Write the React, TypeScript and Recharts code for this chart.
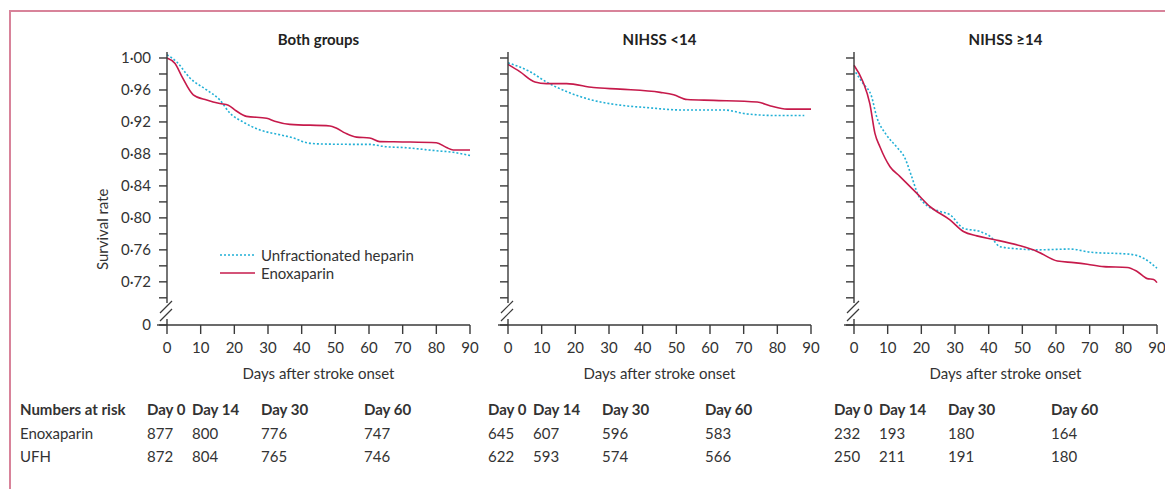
import React from 'react';
import { LineChart, Line, XAxis, YAxis } from 'recharts';

// survival curves as [day, survival]
const bothEnox: [number, number][] = [
  [0, 1.0], [2.4, 0.993], [4.4, 0.977], [7.8, 0.954], [11.8, 0.9475], [15.7, 0.943],
  [18.2, 0.941], [20.5, 0.934], [23.6, 0.927], [29.6, 0.9246], [32, 0.921], [36.5, 0.917],
  [48.4, 0.915], [50.4, 0.912], [53, 0.906], [56.3, 0.901], [60.2, 0.9], [63.2, 0.8954],
  [70, 0.895], [80, 0.894], [83, 0.888], [85, 0.885], [90, 0.885],
];
const bothUfh: [number, number][] = [
  [0, 1.004], [2.9, 0.995], [6.8, 0.975], [11.8, 0.96], [15.7, 0.9475], [18.7, 0.931],
  [22.6, 0.92], [27.6, 0.91], [33.5, 0.904], [37.5, 0.9], [41.5, 0.894], [45.4, 0.8925],
  [55, 0.892], [60, 0.892], [65, 0.889], [70, 0.888], [80, 0.884], [85, 0.882], [90, 0.878],
];
const lowEnox: [number, number][] = [
  [0, 0.992], [3.5, 0.983], [8, 0.97], [11.4, 0.968], [17.4, 0.968], [25.4, 0.963],
  [33.3, 0.961], [45.2, 0.957], [49.2, 0.954], [53.2, 0.948], [61.1, 0.947], [74, 0.945],
  [78, 0.94], [82.9, 0.936], [90, 0.936],
];
const lowUfh: [number, number][] = [
  [0, 0.994], [6.5, 0.983], [11.4, 0.97], [17.4, 0.958], [24.4, 0.948], [33.3, 0.941],
  [41.2, 0.938], [51.2, 0.935], [64, 0.935], [71, 0.93], [80, 0.928], [88, 0.928],
];
const highEnox: [number, number][] = [
  [0, 0.991], [2.7, 0.97], [4.7, 0.943], [6.2, 0.906], [7.7, 0.889], [10.7, 0.864],
  [13.6, 0.852], [18.6, 0.831], [22.6, 0.814], [28.5, 0.7975], [32.5, 0.783], [36.5, 0.7775],
  [41.5, 0.773], [49.4, 0.765], [54.4, 0.758], [60.4, 0.746], [65.3, 0.744], [69.3, 0.742],
  [74.2, 0.739], [81.2, 0.738], [84.1, 0.733], [87.1, 0.724], [89, 0.723], [90, 0.719],
];
const highUfh: [number, number][] = [
  [0.5, 0.982], [2.7, 0.968], [5.2, 0.952], [6.7, 0.927], [9.6, 0.904], [12.6, 0.889],
  [15.1, 0.875], [17.1, 0.852], [19, 0.829], [21.5, 0.816], [25.5, 0.808], [28.5, 0.804],
  [32.5, 0.787], [37.4, 0.783], [40.4, 0.777], [43.4, 0.764], [49.4, 0.761], [54.4, 0.76],
  [64.3, 0.761], [70.3, 0.757], [82.1, 0.7545], [86, 0.7495], [90, 0.737],
];

const dayTicks = [0, 10, 20, 30, 40, 50, 60, 70, 80, 90];
// 0.666 stands in for the broken-axis "0"
const ZERO_POS = 0.666;
const survivalTicks = [ZERO_POS, 0.7, 0.72, 0.74, 0.76, 0.78, 0.8, 0.82, 0.84, 0.86, 0.88, 0.9, 0.92, 0.94, 0.96, 0.98, 1.0];
const labelledTicks = [0.72, 0.76, 0.8, 0.84, 0.88, 0.92, 0.96, 1.0];

const riskDays = ['Day 0', 'Day 14', 'Day 30', 'Day 60'];
const riskGroups = ['Enoxaparin', 'UFH'];
const bothRiskEnox = [877, 800, 776, 747];
const bothRiskUfh = [872, 804, 765, 746];
const lowRiskEnox = [645, 607, 596, 583];
const lowRiskUfh = [622, 593, 574, 566];
const highRiskEnox = [232, 193, 180, 164];
const highRiskUfh = [250, 211, 191, 180];

const FONT = 'Lato, "Open Sans", sans-serif';
const INK = '#333';
const AXIS = '#3a3a3a';
const RED = '#c61a4b';
const CYAN = '#22b0d6';
const Y_TICK_SIZE = 8;
const Y_TICK_MARGIN = 8;
const Y_WIDTH = 60;
const PLOT_LEFT = 167;
const PLOT_W = 303;
const CHART_W = 480;
const CHART_H = 400;

const series = [
  { key: 'ufh', name: 'Unfractionated heparin', color: CYAN, dash: '2 2' },
  { key: 'enox', name: 'Enoxaparin', color: RED, dash: undefined },
];

const toPoints = (rows: [number, number][]) => rows.map(([day, value]) => ({ day, value }));

function SurvivalTick(props: any) {
  const { x, y, payload, showLabels } = props;
  const v = payload.value;
  const axisX = x + Y_TICK_SIZE + Y_TICK_MARGIN;
  let label = '';
  if (showLabels) {
    if (v === ZERO_POS) label = '0';
    else if (labelledTicks.some((t) => Math.abs(t - v) < 1e-6)) label = v.toFixed(2).replace('.', '·');
  }
  return (
    <g>
      {v === ZERO_POS && (
        <g>
          <line x1={axisX - 10} x2={axisX} y1={y} y2={y} stroke={AXIS} strokeWidth={1.4} />
          <rect x={axisX - 3} y={y - 22} width={6} height={16} fill="#fff" />
          <line x1={axisX - 7} y1={y - 12} x2={axisX + 5} y2={y - 24} stroke={AXIS} strokeWidth={1.2} />
          <line x1={axisX - 7} y1={y - 4} x2={axisX + 5} y2={y - 16} stroke={AXIS} strokeWidth={1.2} />
        </g>
      )}
      {label && (
        <text x={x} y={y} dy="0.36em" textAnchor="end" fontSize={15} fill={INK} fontFamily={FONT}>
          {label}
        </text>
      )}
    </g>
  );
}

function LegendBox() {
  return (
    <div style={{ position: 'absolute', left: 218, top: 246, fontFamily: FONT, fontSize: 15, color: INK, lineHeight: '18px' }}>
      {series.map((s) => (
        <div key={s.key} style={{ display: 'flex', alignItems: 'center' }}>
          <svg width={43} height={18}>
            <line x1={2} x2={37} y1={9} y2={9} stroke={s.color} strokeWidth={1.6} strokeDasharray={s.dash} />
          </svg>
          <span>{s.name}</span>
        </div>
      ))}
    </div>
  );
}

function Panel({ left, title, enox, ufh, showLabels, showLegend }: any) {
  const rows: Record<string, [number, number][]> = { enox, ufh };
  return (
    <div style={{ position: 'absolute', left, top: 0, width: CHART_W, height: CHART_H }}>
      <div
        style={{
          position: 'absolute',
          left: PLOT_LEFT,
          width: PLOT_W,
          top: 30,
          textAlign: 'center',
          fontFamily: FONT,
          fontWeight: 700,
          fontSize: 15,
          color: '#222',
        }}
      >
        {title}
      </div>
      <LineChart
        width={CHART_W}
        height={CHART_H}
        margin={{ top: 52, right: CHART_W - PLOT_LEFT - PLOT_W, bottom: 39, left: PLOT_LEFT - Y_WIDTH }}
        style={{ position: 'absolute', left: 0, top: 0 }}
      >
        <XAxis
          type="number"
          dataKey="day"
          domain={[0, 90]}
          ticks={dayTicks}
          interval={0}
          height={36}
          tickSize={9}
          tickMargin={8}
          axisLine={{ stroke: AXIS, strokeWidth: 1.4 }}
          tickLine={{ stroke: AXIS, strokeWidth: 1.4 }}
          tick={{ fontSize: 15, fill: INK, fontFamily: FONT }}
          label={{ value: 'Days after stroke onset', position: 'bottom', offset: 7, fontSize: 15, fill: INK, fontFamily: FONT }}
        />
        <YAxis
          type="number"
          domain={[ZERO_POS, 1.0075]}
          ticks={survivalTicks}
          interval={0}
          width={Y_WIDTH}
          tickSize={Y_TICK_SIZE}
          tickMargin={Y_TICK_MARGIN}
          axisLine={{ stroke: AXIS, strokeWidth: 1.4 }}
          tickLine={{ stroke: AXIS, strokeWidth: 1.4 }}
          tick={(p: any) => <SurvivalTick {...p} showLabels={showLabels} />}
          label={
            showLabels
              ? { value: 'Survival rate', angle: -90, position: 'left', offset: 4, fontSize: 15, fill: INK, fontFamily: FONT }
              : undefined
          }
        />
        {series.map((s) => (
          <Line
            key={s.key}
            data={toPoints(rows[s.key])}
            dataKey="value"
            name={s.name}
            type="monotone"
            stroke={s.color}
            strokeWidth={1.6}
            strokeDasharray={s.dash}
            dot={false}
            isAnimationActive={false}
          />
        ))}
      </LineChart>
      {showLegend && <LegendBox />}
    </div>
  );
}

// column offsets of the at-risk table, relative to each panel's y axis
const RISK_COLS = [-20, 25, 94, 197];

function RiskTable({ axisX, enox, ufh }: any) {
  const rows = [enox, ufh];
  return (
    <>
      {riskDays.map((d, i) => (
        <div key={d} style={{ position: 'absolute', left: axisX + RISK_COLS[i], top: 400, fontWeight: 700 }}>
          {d}
        </div>
      ))}
      {rows.map((vals: number[], r: number) =>
        vals.map((n, i) => (
          <div key={`${r}-${i}`} style={{ position: 'absolute', left: axisX + RISK_COLS[i], top: 424 + r * 23 }}>
            {n}
          </div>
        )),
      )}
    </>
  );
}

export default function App() {
  return (
    <div
      style={{
        position: 'absolute',
        left: 0,
        top: 0,
        width: 1165,
        height: 489,
        overflow: 'hidden',
        background: '#fff',
        fontFamily: FONT,
        fontSize: 15,
        color: INK,
        lineHeight: '18px',
      }}
    >
      <div style={{ position: 'absolute', left: 9, top: 10, right: 0, height: 2, background: '#d8839a' }} />
      <div style={{ position: 'absolute', left: 9, top: 10, bottom: 0, width: 2, background: '#d8839a' }} />

      <Panel left={0} title="Both groups" enox={bothEnox} ufh={bothUfh} showLabels showLegend />
      <Panel left={341} title="NIHSS <14" enox={lowEnox} ufh={lowUfh} showLabels={false} showLegend={false} />
      <Panel left={687} title="NIHSS ≥14" enox={highEnox} ufh={highUfh} showLabels={false} showLegend={false} />

      <div style={{ position: 'absolute', left: 20, top: 400, fontWeight: 700 }}>Numbers at risk</div>
      {riskGroups.map((g, r) => (
        <div key={g} style={{ position: 'absolute', left: 20, top: 424 + r * 23 }}>
          {g}
        </div>
      ))}
      <RiskTable axisX={167} enox={bothRiskEnox} ufh={bothRiskUfh} />
      <RiskTable axisX={508} enox={lowRiskEnox} ufh={lowRiskUfh} />
      <RiskTable axisX={854} enox={highRiskEnox} ufh={highRiskUfh} />
    </div>
  );
}
